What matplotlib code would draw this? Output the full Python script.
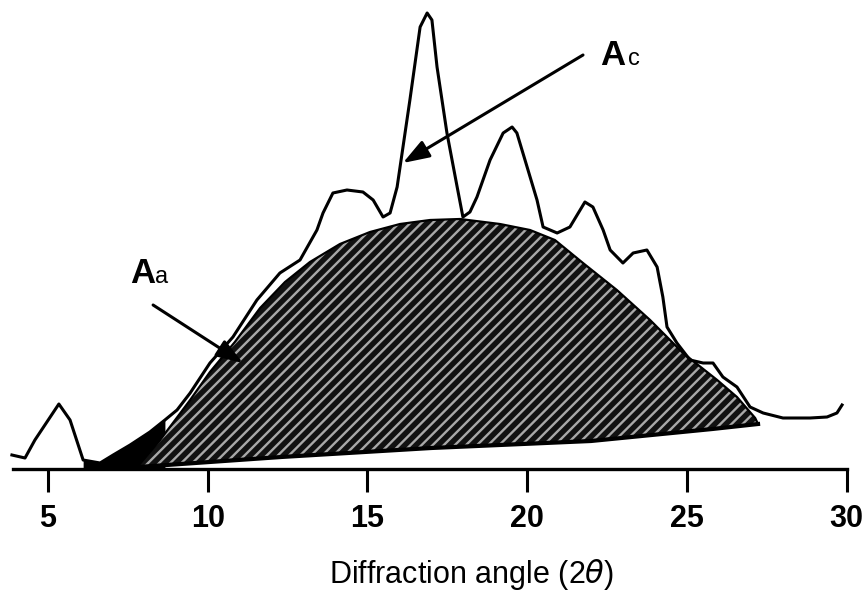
import numpy as np
import matplotlib.pyplot as plt

# XRD trace (2theta in degrees, intensity in arbitrary units)
angle = [3.87, 4.28, 4.59, 5.34, 5.69, 6.10, 6.63, 7.04, 7.57, 8.19, 8.66, 9.04,
         9.45, 10.07, 10.79, 11.54, 12.26, 12.89, 13.42, 13.61, 13.92, 14.36,
         14.86, 15.18, 15.49, 15.71, 15.93, 16.33, 16.65, 16.87, 17.02, 17.18,
         17.49, 17.81, 17.99, 18.21, 18.43, 18.84, 19.25, 19.53, 19.68, 20.00,
         20.31, 20.50, 20.94, 21.34, 21.81, 22.06, 22.38, 22.60, 23.00, 23.32,
         23.75, 24.07, 24.25, 24.38, 24.69, 25.10, 25.51, 25.82, 26.13, 26.57,
         26.98, 27.39, 28.01, 28.86, 29.39, 29.70, 29.86]
intensity = [14, 11, 29, 65, 49, 9, 6, 14, 24, 37, 49, 59,
             76, 106, 132, 169, 196, 209, 239, 256, 276, 279,
             277, 269, 252, 256, 282, 369, 442, 456, 449, 402,
             336, 282, 252, 257, 272, 309, 336, 342, 336, 302,
             269, 242, 236, 242, 267, 262, 239, 219, 206, 216,
             219, 202, 172, 142, 126, 109, 106, 106, 92, 82,
             62, 56, 51, 51, 52, 56, 64]

# amorphous halo (hatched area Aa)
halo_angle = [7.82, 8.51, 9.45, 10.07, 10.85, 11.64, 12.42, 13.20, 14.14, 15.08,
              16.02, 16.96, 17.90, 19.15, 20.09, 20.87, 21.75, 22.81, 23.85,
              24.88, 25.95, 26.57, 27.14, 27.23]
halo_top = [3, 29, 69, 97, 127, 161, 187, 207, 225, 237,
            245, 249, 250, 245, 239, 229, 206, 179, 149,
            116, 89, 72, 51, 45]
base_angle = [7.82, 12.3, 17.0, 22.0, 25.8, 27.23]
base_level = [2, 12, 21, 28, 40, 45]

ticks = [5, 10, 15, 20, 25, 30]

fig = plt.figure(figsize=(8.66, 5.95), dpi=100)
ax = fig.add_axes([0, 126 / 595, 1, 469 / 595])
ax.set_xlim(3.497, 30.61)
ax.set_ylim(0, 469)

# the scan is solid black under the trace just before the halo starts
ax.fill_between(angle[5:11], 0, intensity[5:11], color='black', lw=0, zorder=1)

# hatched halo: baseline interpolated on the halo grid
base_on_halo = np.interp(halo_angle, base_angle, base_level)
plt.rcParams['hatch.linewidth'] = 1.7
ax.fill_between(halo_angle, base_on_halo, halo_top, facecolor='#111111',
                edgecolor='#a8a8a8', hatch='///', linewidth=0, zorder=2)
ax.plot(halo_angle, halo_top, color='black', lw=1.6, zorder=3)
ax.plot(base_angle, base_level, color='black', lw=3, zorder=3)

ax.plot(angle, intensity, color='black', lw=2.2, zorder=4)

# axis styling
for s in ['left', 'right', 'top']:
    ax.spines[s].set_visible(False)
ax.spines['bottom'].set_linewidth(2.4)
ax.spines['bottom'].set_bounds(3.9, 30)
ax.set_yticks([])
ax.set_xticks(ticks)
ax.tick_params(axis='x', direction='out', length=16.5, width=2.2, pad=9)
for lab in ax.get_xticklabels():
    lab.set_family(['Liberation Sans Narrow', 'Liberation Sans'])
    lab.set_fontweight('bold')
    lab.set_fontsize(22)

fig.text(0.545, 0.034, r'Diffraction angle (2$\theta$)', ha='center', va='center',
         fontsize=22, family='Liberation Sans')

# labels and arrows
ax.text(22.28, 404, 'A', fontsize=25, fontweight='bold', family='Liberation Sans')
ax.text(23.16, 404, 'c', fontsize=17, family='Liberation Sans')
ax.text(7.57, 186, 'A', fontsize=25, fontweight='bold', family='Liberation Sans')
ax.text(8.35, 186, 'a', fontsize=17, family='Liberation Sans')

arrow = dict(arrowstyle='-|>,head_length=0.8,head_width=0.28', color='black',
             lw=2.2, mutation_scale=20, shrinkA=0, shrinkB=0)
ax.annotate('', xy=(16.11, 306), xytext=(21.75, 414), arrowprops=arrow, zorder=5)
ax.annotate('', xy=(11.1, 106), xytext=(8.29, 164), arrowprops=arrow, zorder=5)

plt.savefig('out.png', dpi=100)
